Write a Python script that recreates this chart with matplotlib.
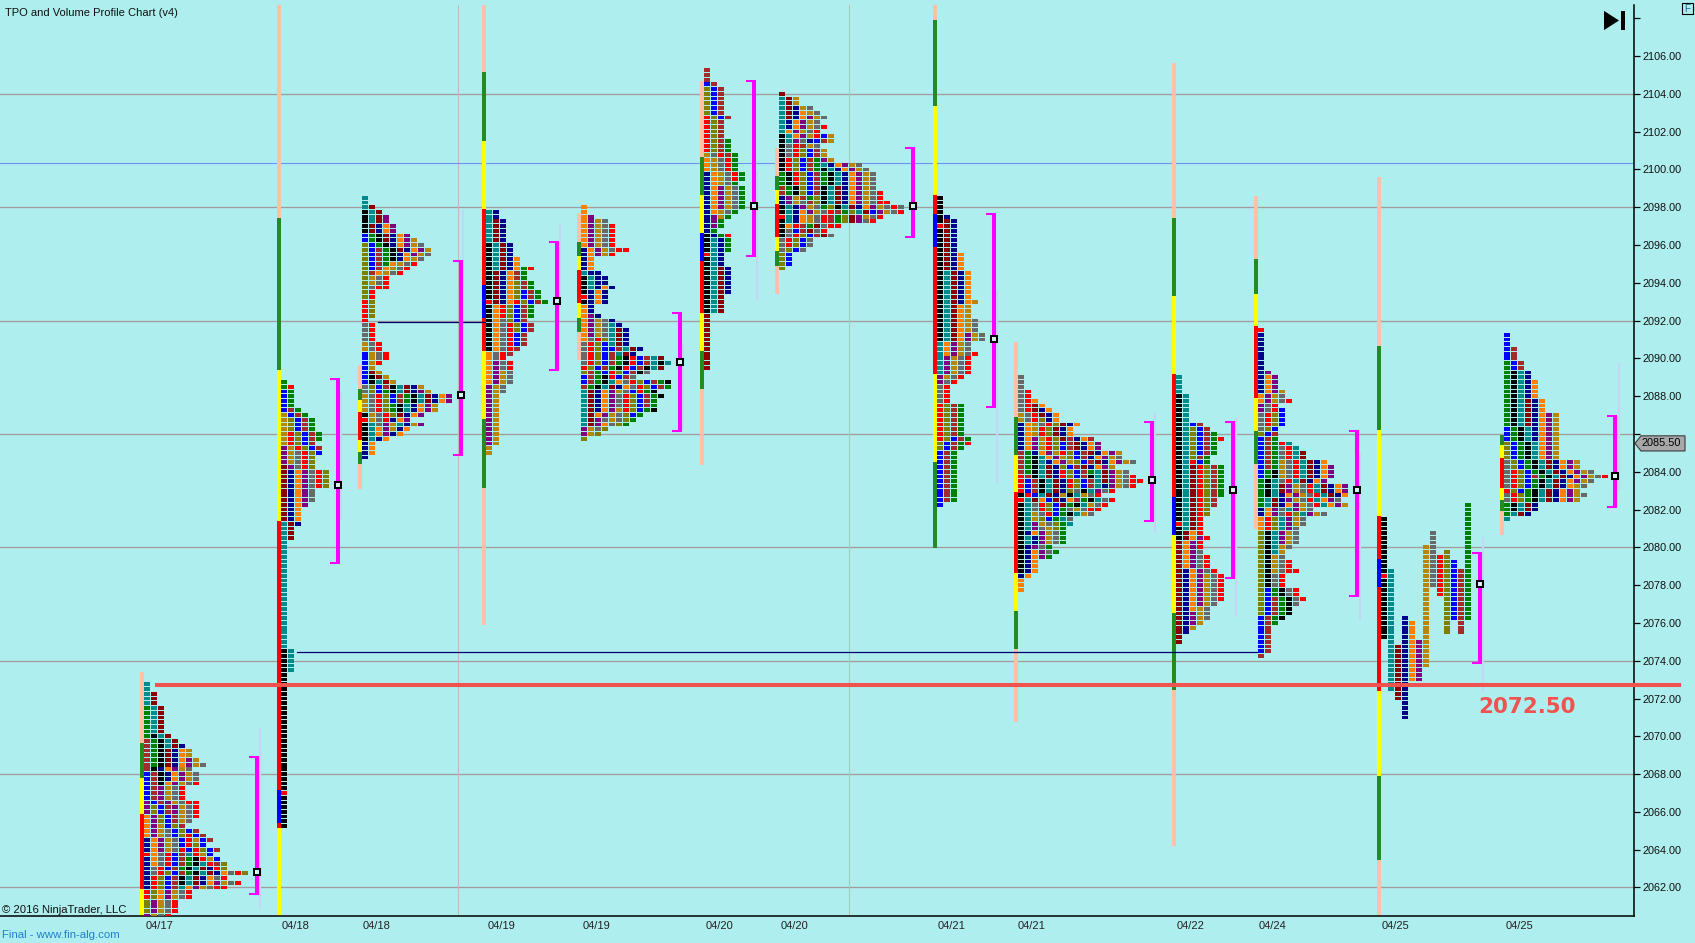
import matplotlib
matplotlib.use("Agg")
import matplotlib.pyplot as plt
from matplotlib.patches import Polygon, Rectangle

plt.rcParams['font.family'] = ['Liberation Sans', 'DejaVu Sans']

W, H = 1695, 943
AXIS_RIGHT, AXIS_TOP, AXIS_BOTTOM = 1634, 5, 916
BG = '#AFEEEE'

# tpo letter colours
TPO = {'k': '#000000', 't': '#008B8B', 'm': '#8B0000', 'n': '#00008B', 'o': '#FF8000',
       'p': '#800080', 'g': '#B8860B', 'a': '#696969', 'r': '#FF0000', 'l': '#808000',
       'b': '#0000FF', 'w': '#A52A2A', 'G': '#008000'}
# range bar colours
BAR = {'P': '#FFC0A8', 'G': '#228B22', 'Y': '#FFFF00', 'R': '#FF0000', 'B': '#0000FF'}

# x of first tpo column per session
SESSION_X = [144, 281, 362, 486, 581, 704, 779, 937, 1018, 1176, 1258, 1381, 1504]
LABEL_X = [160, 296, 377, 502, 597, 720, 795, 952, 1032, 1191, 1273, 1396, 1520]
LABELS = ['04/17', '04/18', '04/18', '04/19', '04/19', '04/20', '04/20',
          '04/21', '04/21', '04/22', '04/24', '04/25', '04/25']

# top row price per session (None = split profile)
TOP_PRICE = [2072.75, 2088.75, 2098.5, 2097.75, 2098.0, 2105.25, 2104.0,
             2098.5, 2089.0, 2089.0, 2091.5, None, 2091.25]

# rows top-down as (repeat, letters)
ROWS_1 = [(2, 't'), (3, 'tm'), (6, 'Gtm'), (1, 'Gktm'), (1, 'wGktm'), (1, 'wGktmn'), (2, 'wGkmnog'),
          (1, 'wGkmnopg'), (1, 'wGkmnopga'), (1, 'wknopga'), (2, 'bwknopga'), (1, 'bwkopgar'),
          (3, 'bwpgar'), (1, 'pbwpgarr'), (2, 'plbwpgar'), (1, 'oplbwgar'), (1, 'oplbwga'),
          (1, 'opgblw'), (1, 'opgablbw'), (1, 'opgablrbw'), (1, 'nopgabrgbw'), (1, 'nopgabrlb'),
          (1, 'nopgarbrlbw'), (1, 'roarbwtrgb'), (1, 'noarbwGkrgb'), (1, 'noarbwGktrwl'),
          (1, 'narbwGktmnrl'), (1, 'narlbwGktmnoarl'), (1, 'nrlbwktmnoar'), (1, 'nrlbwktmnopgar'),
          (1, 'nrlbwtopgarr'), (2, 'rlopgar'), (3, 'lpgar'), (1, 'pgar')]
ROWS_2 = [(1, 'G'), (1, 'Gr'), (4, 'bG'), (1, 'bwG'), (1, 'gbwG'), (3, 'glbwG'), (2, 'grlbwG'), (1, 'grlbw'),
          (1, 'pgrlbw'), (1, 'pgarlb'), (2, 'pgarl'), (1, 'mparl'), (4, 'mnoparl'), (3, 'mnopa'),
          (1, 'mnop'), (3, 'mno'), (1, 'tmn'), (3, 'tm'), (23, 't'), (5, 'kt'), (25, 'k'), (1, 'r'), (7, 'k')]
ROWS_3 = [(2, 't'), (1, 'tm'), (1, 'ktm'), (2, 'ktmp'), (2, 'kmnop'), (1, 'bGkmnop'), (1, 'bGkmnopg'),
          (1, 'lbGknopga'), (1, 'lbwGkmnopg'), (1, 'lbwGknopga'), (1, 'lbwGknoga'), (1, 'lbwGogar'),
          (1, 'lbwogar'), (1, 'lwogar'), (2, 'lgar'), (1, 'larr'), (2, 'lr'), (4, 'rl'), (1, 'r'), (4, 'ar'),
          (2, 'gar'), (2, 'bgar'), (1, 'bgr'), (1, 'bg'), (1, 'bmg'), (1, 'bkmg'), (1, 'bktmg'),
          (1, 'albwktmng'), (1, 'albGktmnpg'), (2, 'garlbwGktmnop'), (2, 'garlGktnopg'),
          (1, 'kgarlmnop'), (1, 'rgarnop'), (1, 'ktapgtngp'), (1, 'ktopgno'), (1, 'ktopno'),
          (1, 'ktno'), (3, 'no'), (1, 'n')]
ROWS_4 = [(2, 'tn'), (5, 'tmn'), (3, 'ktmn'), (2, 'ktmno'), (1, 'ktmnoGr'), (2, 'kmnowG'), (2, 'kmnolwG'),
          (2, 'kmnolbwG'), (1, 'rmnorlbwG'), (3, 'korlbwG'), (1, 'koalbw'), (2, 'koarlbw'),
          (3, 'koarbw'), (1, 'koarw'), (1, 'oarw'), (1, 'oar'), (2, 'opar'), (3, 'opga'), (2, 'pga'),
          (11, 'pg'), (2, 'g')]
ROWS_5 = [(2, 'o'), (1, 'op'), (1, 'opga'), (5, 'opgar'), (1, 'nopgarr'), (1, 'nopgr'), (3, 'no'), (1, 'tnn'),
          (2, 'ktnn'), (1, 'ktnon'), (1, 'knon'), (1, 'rnon'), (1, 'knon'), (2, 'on'), (1, 'opn'), (1, 'opgan'),
          (1, 'opgatn'), (2, 'opgatmn'), (1, 'oarltmn'), (1, 'arlbtmn'), (1, 'arlbbwtmn'), (1, 'arlbwtmn'),
          (1, 'arlbwGkrbwtm'), (1, 'arlbwGkrbwtkt'), (1, 'rlbwGkrbwktm'), (1, 'lwGbrlbwka'), (1, 'bwGkrbwa'),
          (1, 'bwGktoarlbwGk'), (1, 'wGktmnoarlbwG'), (1, 'tmnopgabrGk'), (1, 'tmnoparlbwGk'),
          (2, 'tmnoparlbwG'), (1, 'tmnopgrlbGk'), (1, 'tmopgalbG'), (1, 'tmpagalG'), (1, 'tmpoalG'), (1, 'pgal'),
          (1, 'pgl'), (1, 'l')]
ROWS_6 = [(3, 'w'), (1, 'bw'), (6, 'lbw'), (1, 'rlbw'), (4, 'rlw'), (3, 'rlwG'), (1, 'garwG'), (3, 'ogarG'),
          (2, 'nogarG'), (1, 'nogaG'), (5, 'nopgaG'), (1, 'nogaG'), (1, 'npgG'), (2, 'npG'), (1, 'nG'),
          (1, 'knGr'), (3, 'ktnG'), (1, 'rtn'), (2, 'ktn'), (6, 'ktmn'), (4, 'ktm'), (12, 'm')]
ROWS_7 = [(1, 'm'), (2, 'tmg'), (1, 'tmnga'), (1, 'tmnoga'), (1, 'tmnopga'), (1, 'tnopga'), (1, 'tnopgar'),
          (1, 'topgar'), (1, 'ktopgrbg'), (1, 'ktpanbwg'), (1, 'karwga'), (2, 'karlbwg'), (1, 'krlbwGpg'),
          (1, 'krlbwGtnopga'), (1, 'krlbwGktnopga'), (3, 'GkrlbwGktnopga'), (1, 'wGklbwktmnopga'),
          (1, 'wGklbwktmnopgar'), (1, 'npgwGlktmnopgar'), (1, 'npgawlktmnopgarr'),
          (1, 'ktnpgaGlktmnopgara'), (1, 'ktnopgarwGltmbpgar'), (1, 'rtnogarwGlmpgar'), (1, 'ktnogarwGlmpar'),
          (1, 'korwGmarr'), (1, 'kabwmar'), (1, 'karlbwma'), (2, 'arlba'), (1, 'alba'), (3, 'lb'), (1, 'l')]
ROWS_8 = [(4, 'k'), (1, 'kn'), (1, 'kmn'), (1, 'rmn'), (5, 'kmn'), (4, 'kmno'), (6, 'ktmno'), (1, 'ktmnog'),
          (3, 'ktmog'), (3, 'ktmoga'), (2, 'ktmopga'), (2, 'topga'), (1, 'topgar'), (4, 'tpgar'), (1, 'pgar'),
          (1, 'par'), (4, 'ar'), (7, 'rlwG'), (1, 'rlbwG'), (1, 'lbwGr'), (1, 'lbwG'), (11, 'bwG'), (1, 'b')]
ROWS_9 = [(3, 'a'), (2, 'ar'), (1, 'aro'), (1, 'armo'), (1, 'armno'), (1, 'garmno'), (1, 'garlno'),
          (1, 'nogarlmno'), (2, 'nogrlmno'), (1, 'nopgrlmwnow'), (2, 'nopgrlbwmnop'), (1, 'wGnopgrlbwmnopg'),
          (1, 'wGktopglbwnopga'), (1, 'wGktnopglbwmnopga'), (1, 'wGktmnlbwmnopg'), (1, 'wGktmnrlbwGtmpga'),
          (1, 'rwktmnrlbwktmpgar'), (1, 'rbwktmnrlbwtmpgarr'), (1, 'rbwktmnrlbwtnpgar'), (1, 'rbwktmnlaktpar'),
          (1, 'krbtmngktgar'), (1, 'rtmobmnowGktar'), (1, 'ktarlbmGktgar'), (1, 'ktarlbGagarr'),
          (1, 'ktgarbGktga'), (1, 'ktglbGta'), (1, 'ktpgalGt'), (1, 'ktpaglG'), (1, 'knopgaG'), (2, 'ktnpgaG'),
          (1, 'knpaG'), (1, 'knopaG'), (1, 'knopG'), (3, 'kno'), (1, 'no'), (3, 'o')]
ROWS_10 = [(4, 't'), (6, 'kt'), (1, 'ktbw'), (1, 'ktlbw'), (1, 'ktlbwG'), (1, 'ktlbwGr'), (3, 'ktlbwG'),
           (1, 'ktlwG'), (1, 'ktrbG'), (7, 'ktmrlwG'), (2, 'ktmrlw'), (2, 'ktmrl'), (1, 'ktmr'), (1, 'rtmr'),
           (1, 'ktmr'), (1, 'kmor'), (1, 'kmopr'), (2, 'mopr'), (1, 'mopa'), (3, 'mopar'), (1, 'mnopar'),
           (6, 'mnopgar'), (1, 'mnopga'), (1, 'mnoga'), (2, 'mnpga'), (1, 'mnpg'), (1, 'mng'), (1, 'mn'), (2, 'm')]
ROWS_11 = [(1, 'r'), (8, 'n'), (1, 'np'), (3, 'nop'), (1, 'nopg'), (1, 'opga'), (1, 'opgar'), (1, 'par'),
           (1, 'parb'), (3, 'arlb'), (1, 'alb'), (1, 'lbw'), (1, 'bwG'), (1, 'bwGrt'), (1, 'bwGart'),
           (2, 'bwGartm'), (1, 'bwGgartmno'), (1, 'bwGgartmnop'), (2, 'bGkgartmnop'), (1, 'Gktartmnop'),
           (2, 'Gktmpgartmnop'), (1, 'Gktnopgartmno'), (1, 'Gtmnpgartopa'), (1, 'Gtmnopgartopg'),
           (1, 'nopatpga'), (1, 'noparltpga'), (2, 'orltpga'), (1, 'orltpa'), (3, 'lktpga'), (1, 'lktga'),
           (1, 'lktg'), (1, 'lkga'), (2, 'lkgar'), (1, 'lkgarr'), (3, 'lkar'), (2, 'lbGkar'), (1, 'lbwGkar'),
           (1, 'lbwGka'), (2, 'lbwGk'), (1, 'bwGk'), (1, 'bwG'), (6, 'bw'), (1, 'w')]
ROWS_13 = [(3, 'b'), (3, 'bw'), (2, 'Gbw'), (2, 'Gktn'), (4, 'Gktno'), (3, 'Gktmno'), (3, 'Gktmnopg'),
           (3, 'bGktnopg'), (4, 'lbGktopg'), (2, 'albGktmnopg'), (1, 'arlbGktmnopga'),
           (1, 'arlbwGktmnopgar'), (1, 'arlbGktmnopga'), (1, 'arlbGktmnoga'), (1, 'rlbGktmnopg'),
           (1, 'arlGktmnopga'), (1, 'arlGktmnopg'), (2, 'Gktmn'), (1, 'Gtmn'), (1, 't')]
SESSION_ROWS = [ROWS_1, ROWS_2, ROWS_3, ROWS_4, ROWS_5, ROWS_6, ROWS_7, ROWS_8, ROWS_9, ROWS_10, ROWS_11, None, ROWS_13]

# session 12 is not collapsed: each letter keeps its own column (letter, high, low)
SPLIT_COLS = [('k', 2081.5, 2075.25), ('t', 2078.75, 2072.5), ('m', 2074.75, 2072.0), ('n', 2076.25, 2071.0),
              ('o', 2076.0, 2073.0), ('p', 2075.0, 2073.0), ('g', 2080.0, 2073.75), ('a', 2080.75, 2078.0),
              ('r', 2079.5, 2077.5), ('l', 2079.75, 2075.5), ('b', 2079.25, 2076.25), ('w', 2078.75, 2075.5),
              ('G', 2082.25, 2076.25)]
SPLIT_RED = [(0, 2078.5), (12, 2082.0)]

# range bar per session: price edges and the colour between them
BAR_EDGES = [
    [2073.4, 2069.66, 2067.81, 2065.89, 2061.92, 2060.5],
    [2108.7, 2097.42, 2089.38, 2081.39, 2067.16, 2065.41, 2065.15, 2060.5],
    [2089.65, 2088.38, 2087.79, 2087.17, 2085.68, 2085.04, 2084.41, 2083.08],
    [2108.7, 2105.15, 2101.52, 2097.9, 2093.88, 2092.15, 2090.39, 2086.79, 2083.14, 2075.89],
    [2097.67, 2096.15, 2095.41, 2094.67, 2092.93, 2092.13, 2091.39, 2089.91],
    [2104.66, 2100.65, 2098.64, 2096.63, 2095.15, 2092.4, 2090.39, 2088.38, 2084.35],
    [2101.14, 2099.65, 2098.9, 2098.16, 2096.42, 2095.68, 2094.88, 2093.4],
    [2108.7, 2107.93, 2103.35, 2098.64, 2097.63, 2095.89, 2089.17, 2084.51, 2079.96],
    [2090.86, 2086.91, 2084.88, 2082.94, 2078.64, 2076.63, 2074.64, 2070.76],
    [2105.62, 2097.42, 2093.3, 2089.17, 2082.66, 2080.65, 2076.52, 2072.45, 2064.2],
    [2098.61, 2095.25, 2093.4, 2091.71, 2087.9, 2086.15, 2084.41, 2080.97],
    [2099.59, 2090.65, 2086.21, 2081.66, 2079.38, 2077.9, 2072.4, 2067.9, 2063.43, 2060.5],
    [2085.96, 2085.41, 2084.72, 2083.16, 2082.5, 2081.92, 2080.65],
]
BAR_COLORS = ['PGYRY', 'PGYRBRY', 'PGYRYGP', 'PGYRBRYGP', 'PGYRYGP', 'PGYBRYGP', 'PGYRYGP',
              'PGYRBRYG', 'PGYRYGP', 'PGYRBYGP', 'PGYRYGP', 'PGYRBRYGP', 'GYRYGP']

# value area brackets
VA_X = [257, 338, 461, 557, 680, 754, 913, 994, 1152, 1233, 1357, 1480, 1615]
VA_HIGH = [2068.92, 2088.9, 2095.16, 2096.17, 2092.41, 2104.69, 2101.14, 2097.63, 2086.65, 2086.65, 2086.17, 2079.68, 2086.95]
VA_LOW = [2061.66, 2079.19, 2084.88, 2089.38, 2086.17, 2095.41, 2096.43, 2087.44, 2081.39, 2078.38, 2077.42, 2073.88, 2082.13]
POC = [2062.82, 2083.28, 2088.04, 2093.05, 2089.79, 2098.04, 2098.04, 2091.02, 2083.54, 2083.03, 2083.03, 2078.04, 2083.79]

# faint volume strips next to the brackets
FAINT_X = [260, 341, 463, 560, 683, 757, 997, 1155, 1236, 1360, 1483, 1619]
FAINT_HIGH = [2070.44, 2088.16, 2097.85, 2097.16, 2090.81, 2099.96, 2093.61, 2087.11, 2086.84, 2084.99, 2080.54, 2089.8]
FAINT_LOW = [2060.92, 2081.44, 2093.77, 2092.71, 2086.21, 2093.08, 2083.4, 2080.76, 2076.31, 2076.15, 2072.34, 2083.03]

GRID_PRICES = [2062, 2068, 2074, 2080, 2086, 2092, 2098, 2104]
TICK_PRICES = list(range(2062, 2110, 2))
BLUE_LEVEL = 2100.36
RED_LEVEL = 2072.72
SESSION_LINES = [458, 848.6]
NAKED_POC = [(2091.9, 378, 485), (2074.44, 297, 1257)]
LAST_PRICE = 2085.5

fig = plt.figure(figsize=(W / 100, H / 100), dpi=100, facecolor=BG)
ax = fig.add_axes([0, 1 - AXIS_BOTTOM / H, AXIS_RIGHT / W, (AXIS_BOTTOM - AXIS_TOP) / H], facecolor=BG)
ax.set_xlim(0, AXIS_RIGHT)
ax.set_ylim(2060.49, 2108.7)

for p in GRID_PRICES:
    ax.axhline(p, color='#A39C9C', lw=0.95, zorder=1)
for x in SESSION_LINES:
    ax.axvline(x, color='#BDBDBD', lw=0.8, zorder=1)
ax.axhline(BLUE_LEVEL, color='#6C96EE', lw=0.8, zorder=1.5)

# range bars
for x, edges, cols in zip(SESSION_X, BAR_EDGES, BAR_COLORS):
    for i, c in enumerate(cols):
        ax.bar(x - 2, edges[i] - edges[i + 1], width=4, bottom=edges[i + 1], color=BAR[c],
               linewidth=0, antialiased=False, zorder=2)

for p, x0, x1 in NAKED_POC:
    ax.plot([x0, x1], [p, p], color='#00006E', lw=0.9, zorder=2.5)

# tpo cells, grouped by colour
cells = {k: ([], []) for k in TPO}
for x, top, rows in zip(SESSION_X, TOP_PRICE, SESSION_ROWS):
    if rows is None:
        for j, (c, hi, lo) in enumerate(SPLIT_COLS):
            p = hi
            while p >= lo:
                cells[c][0].append(x + 7 * j)
                cells[c][1].append(p)
                p -= 0.25
        for j, p in SPLIT_RED:
            cells['r'][0].append(x + 7 * j)
            cells['r'][1].append(p)
        continue
    i = 0
    for n, letters in rows:
        for _ in range(n):
            for j, c in enumerate(letters):
                cells[c][0].append(x + 7 * j)
                cells[c][1].append(top - 0.25 * i)
            i += 1
for k, (xs, ps) in cells.items():
    ax.barh(ps, [6] * len(xs), left=xs, height=0.2, align='center', color=TPO[k],
            linewidth=0, antialiased=False, zorder=3)

# faint volume strips
ax.vlines(FAINT_X, FAINT_LOW, FAINT_HIGH, color='#C3D6F6', lw=1.6, zorder=2)

# value area brackets + poc marker
for x, hi, lo, poc in zip(VA_X, VA_HIGH, VA_LOW, POC):
    ax.plot([x, x], [lo, hi], color='#FF00FF', lw=2.9, solid_capstyle='butt', zorder=4)
    ax.plot([x - 8, x + 2], [hi, hi], color='#FF00FF', lw=1.45, solid_capstyle='butt', zorder=4)
    ax.plot([x - 8, x + 2], [lo, lo], color='#FF00FF', lw=1.45, solid_capstyle='butt', zorder=4)
    ax.plot([x], [poc], marker='s', ms=4.3, mfc='#D8F6F6', mec='black', mew=1.45, zorder=5)

# key level
ax.plot([155, 1681], [RED_LEVEL, RED_LEVEL], color='#EF5350', lw=2.9, solid_capstyle='butt',
        clip_on=False, zorder=6)
ax.text(1478, 2071.53, '%.2f' % 2072.50, family='DejaVu Sans', weight='bold', fontsize=15.4,
        color='#EF5350', va='center', ha='left', zorder=6)

# skip-to-end icon
ax.add_patch(Polygon([(1604, 2108.39), (1604, 2107.37), (1619, 2107.88)], color='black', lw=0, zorder=6))
ax.add_patch(Rectangle((1621, 2107.37), 4, 1.02, color='black', lw=0, zorder=6))

ax.set_xticks(LABEL_X)
ax.set_xticklabels(LABELS, fontsize=8, color='#222222')
ax.tick_params(axis='x', length=0, pad=3.5)
ax.yaxis.tick_right()
ax.set_yticks(TICK_PRICES)
ax.set_yticklabels(['' if p in (2086, 2108) else '%.2f' % p for p in TICK_PRICES], fontsize=7.8, color='#111111')
ax.tick_params(axis='y', length=4.3, width=0.9, pad=1.6)
for s in ['top', 'left']:
    ax.spines[s].set_visible(False)
for s in ['bottom', 'right']:
    ax.spines[s].set_linewidth(1.1)

# last price tag
ax.add_patch(Polygon([(AXIS_RIGHT + 1, LAST_PRICE), (AXIS_RIGHT + 7, LAST_PRICE + 0.4), (1685, LAST_PRICE + 0.4),
                      (1685, LAST_PRICE - 0.4), (AXIS_RIGHT + 7, LAST_PRICE - 0.4)],
                     facecolor='#A8A8A8', edgecolor='#3A3A3A', lw=0.8, clip_on=False, zorder=7))
ax.text(1661, LAST_PRICE, '%.2f' % LAST_PRICE, fontsize=7.8, color='black', ha='center', va='center',
        clip_on=False, zorder=8)

fig.text(5 / W, 1 - 13 / H, 'TPO and Volume Profile Chart (v4)', fontsize=8, color='#111111', va='center')
fig.text(2 / W, 1 - 910 / H, '\u00a9 2016 NinjaTrader, LLC', fontsize=8.1, color='#111111', va='center')
fig.text(2 / W, 1 - 935 / H, 'Final - www.fin-alg.com', fontsize=8.2, color='#1E7FD0', va='center')
fig.add_artist(Rectangle((1682 / W, 1 - 14 / H), 11 / W, 11 / H, transform=fig.transFigure,
                         fc=BG, ec='black', lw=0.8))
fig.text(1687.5 / W, 1 - 8.5 / H, 'F', fontsize=7, color='#1E5FA0', ha='center', va='center')

fig.savefig('out.png', dpi=100, facecolor=BG)
